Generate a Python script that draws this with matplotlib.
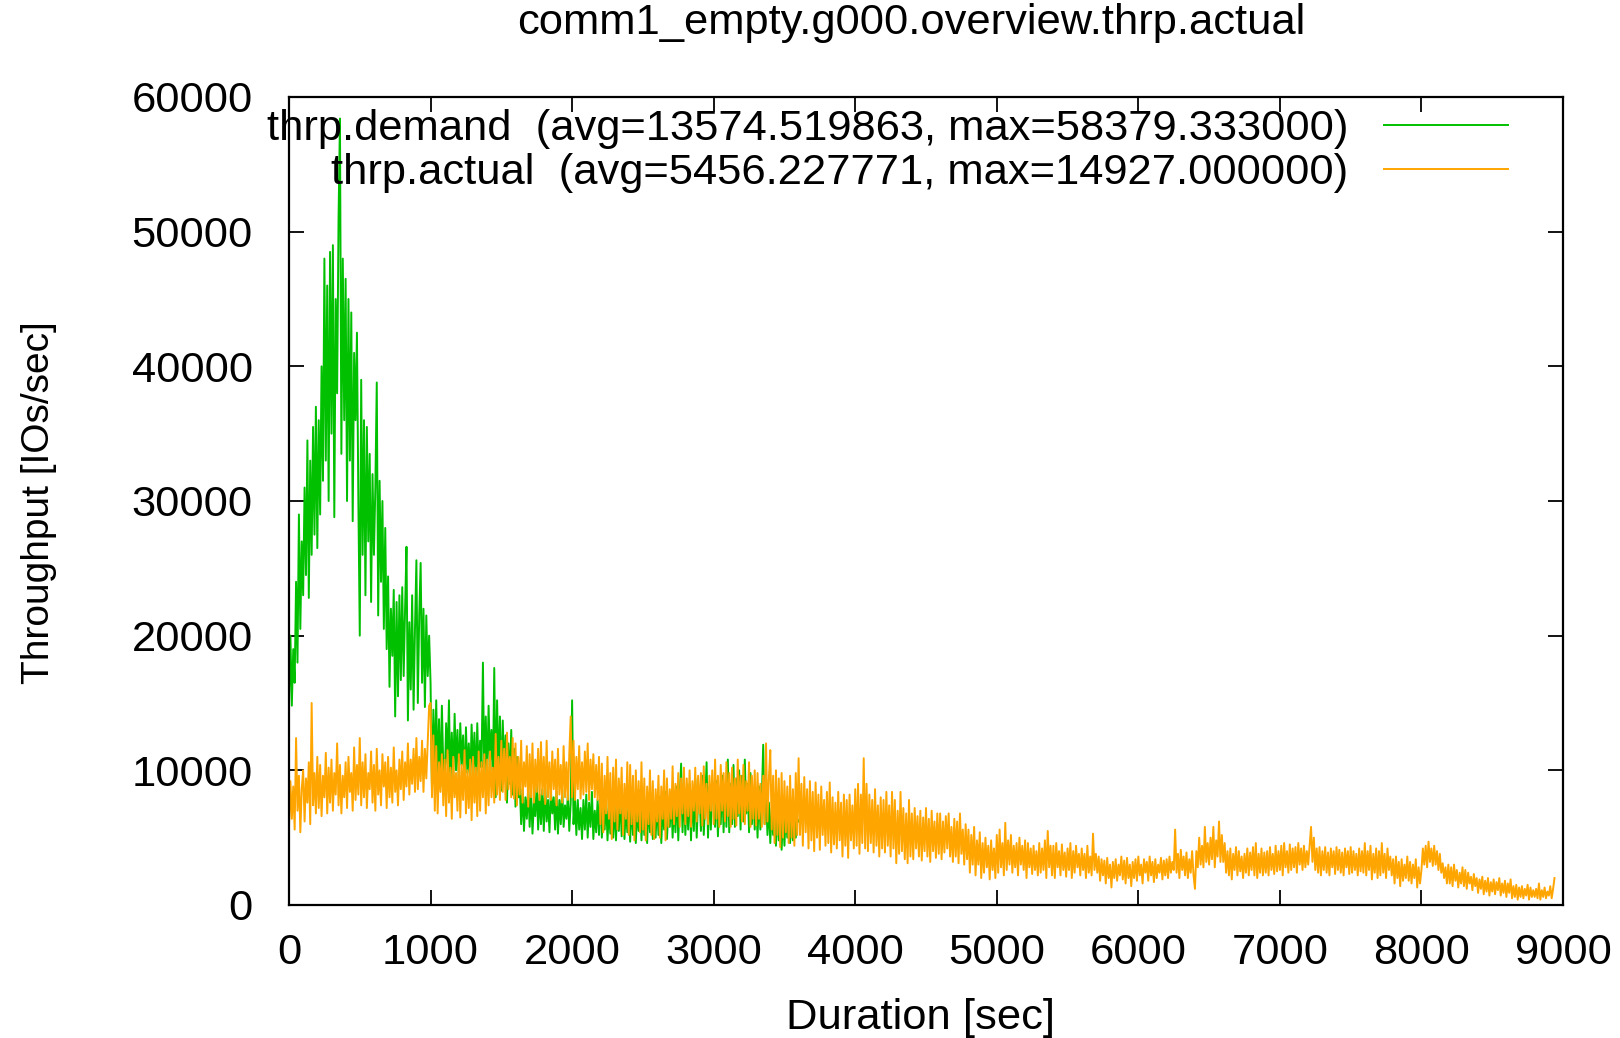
import numpy as np
import matplotlib
matplotlib.use("Agg")
import matplotlib.pyplot as plt
from matplotlib.lines import Line2D

plt.rcParams['font.family'] = ['Liberation Sans', 'DejaVu Sans']

# sample spacing of the series below (sec)
step_sec = 10

# thrp.demand, kIOs/sec, one value every 10 sec from t=0 to t=3600 (one row = 100 sec)
demand_k = [
    15.0, 20.0, 14.8, 19.0, 16.5, 24.0, 18.0, 29.0, 20.5, 27.0,
    23.0, 31.0, 24.5, 34.5, 22.8, 33.0, 26.0, 35.5, 27.5, 37.0,
    26.5, 36.0, 29.0, 40.0, 31.5, 48.0, 33.0, 46.0, 30.0, 48.5,
    35.0, 49.0, 28.8, 45.0, 38.0, 51.0, 58.4, 33.5, 48.0, 36.0,
    46.5, 30.0, 45.0, 33.0, 44.0, 28.5, 41.0, 36.0, 42.5, 30.0,
    20.0, 39.0, 26.0, 36.0, 23.0, 35.5, 27.0, 33.5, 22.5, 32.0,
    26.0, 31.0, 38.8, 21.5, 31.5, 24.0, 30.0, 20.5, 28.0, 19.0,
    24.4, 16.2, 22.0, 18.5, 23.4, 14.0, 22.5, 15.5, 23.0, 16.7,
    23.6, 17.0, 22.0, 26.6, 13.7, 21.0, 16.0, 23.0, 14.5, 20.5,
    25.6, 15.0, 21.5, 25.4, 16.5, 22.0, 14.7, 21.5, 17.0, 20.0,
    16.5, 8.5, 14.5, 10.0, 15.2, 9.5, 13.8, 8.8, 14.8, 10.2,
    9.0, 13.5, 10.5, 15.2, 8.6, 12.8, 9.4, 14.2, 10.0, 13.0,
    9.2, 13.5, 10.4, 12.6, 8.8, 13.2, 9.8, 12.0, 9.0, 13.4,
    10.0, 12.8, 8.8, 13.5, 9.6, 12.2, 10.2, 18.0, 9.0, 14.0,
    9.4, 14.8, 10.6, 13.0, 9.0, 17.6, 8.0, 15.2, 9.6, 14.0,
    8.5, 13.7, 9.8, 12.6, 7.6, 12.0, 9.0, 13.0, 8.2, 11.6,
    7.3, 11.0, 8.0, 9.0, 6.0, 8.6, 5.5, 8.0, 6.4, 8.8,
    5.8, 8.4, 5.3, 7.6, 6.6, 9.0, 5.6, 8.2, 6.0, 8.6,
    5.5, 8.8, 6.2, 7.8, 5.4, 8.5, 6.8, 8.0, 5.6, 8.4,
    5.3, 7.8, 6.0, 8.6, 5.8, 7.4, 6.4, 8.2, 5.5, 7.6,
    15.2, 6.0, 8.0, 5.2, 7.8, 5.6, 7.2, 4.9, 7.8, 5.6,
    8.2, 5.0, 7.6, 5.8, 8.4, 4.9, 7.0, 5.4, 7.8, 5.2,
    8.8, 5.0, 7.4, 5.6, 7.9, 4.8, 7.2, 5.3, 8.0, 5.0,
    7.4, 4.8, 7.8, 5.5, 8.2, 5.1, 7.0, 4.9, 7.6, 5.4,
    7.4, 4.7, 7.8, 5.2, 8.0, 4.6, 7.3, 5.5, 8.5, 4.8,
    7.6, 5.2, 7.0, 4.6, 7.8, 5.4, 8.2, 4.9, 7.5, 5.0,
    7.8, 5.2, 8.0, 4.6, 7.4, 5.6, 8.4, 4.9, 7.2, 5.8,
    8.2, 5.0, 7.6, 5.4, 8.8, 4.8, 7.9, 10.5, 5.4, 8.6,
    5.2, 8.0, 5.6, 9.0, 4.8, 8.5, 5.5, 9.4, 5.0, 7.8,
    8.5, 5.5, 9.6, 5.2, 7.6, 10.6, 5.0, 8.8, 5.6, 9.2,
    8.4, 5.8, 9.2, 5.1, 8.0, 6.0, 9.6, 5.4, 8.6, 5.8,
    10.8, 5.4, 9.0, 6.0, 10.4, 5.8, 9.4, 6.6, 10.0, 5.6,
    9.6, 6.2, 10.8, 6.8, 9.0, 5.4, 9.8, 6.0, 8.6, 5.6,
    8.2, 5.0, 8.8, 5.6, 7.8, 11.9, 6.0, 8.4, 5.2, 7.6,
    4.6, 7.2, 5.2, 7.8, 4.4, 7.6, 4.8, 7.0, 4.1, 6.8,
    4.4, 7.2, 5.0, 6.6, 4.6, 7.4, 4.8, 6.8, 5.0, 6.4,
    6.2,
]

# thrp.actual, kIOs/sec, one value every 10 sec from t=0 to t=8940 (one row = 100 sec)
actual_k = [
    5.8, 9.2, 6.4, 8.8, 5.6, 12.4, 7.0, 9.6, 5.4, 8.6,
    10.0, 6.2, 9.4, 7.6, 10.6, 6.0, 15.0, 7.4, 9.8, 6.8,
    11.0, 7.2, 10.4, 6.6, 9.6, 8.0, 11.3, 6.8, 10.2, 7.6,
    10.8, 7.0, 9.8, 8.2, 12.0, 7.4, 10.4, 6.8, 9.6, 8.0,
    10.6, 7.2, 11.0, 8.4, 9.8, 7.0, 11.7, 7.8, 10.4, 8.2,
    12.4, 7.4, 10.6, 8.0, 11.2, 7.2, 9.8, 8.6, 11.4, 7.6,
    10.4, 7.0, 11.6, 8.2, 10.0, 7.4, 11.2, 8.8, 10.6, 7.2,
    11.0, 8.0, 10.2, 7.6, 11.7, 8.4, 10.0, 7.4, 10.8, 8.6,
    11.4, 7.8, 10.6, 8.8, 12.0, 8.2, 10.8, 9.0, 11.6, 8.4,
    12.4, 8.6, 11.0, 9.2, 12.2, 8.4, 11.6, 9.4, 12.0, 14.8,
    15.0, 8.0, 12.6, 7.0, 11.8, 6.8, 10.6, 8.4, 11.2, 7.4,
    10.8, 6.6, 11.5, 7.6, 10.2, 6.4, 11.0, 8.0, 9.8, 7.0,
    11.2, 6.5, 10.4, 7.8, 11.5, 6.8, 10.0, 7.2, 10.8, 6.3,
    11.0, 7.6, 10.2, 6.6, 11.4, 7.0, 10.6, 8.0, 11.2, 6.8,
    10.8, 7.4, 11.4, 8.0, 10.2, 7.6, 12.7, 8.2, 11.0, 7.8,
    12.2, 8.4, 11.6, 7.8, 12.8, 8.6, 11.0, 8.0, 12.4, 7.9,
    12.0, 7.4, 11.0, 8.2, 12.2, 7.6, 10.6, 8.8, 11.8, 7.3,
    11.2, 8.0, 12.0, 7.6, 10.8, 8.4, 11.6, 7.8, 12.1, 8.2,
    11.0, 7.5, 12.2, 8.0, 10.6, 7.8, 11.4, 8.6, 10.8, 7.4,
    11.6, 8.2, 10.4, 7.6, 11.8, 8.0, 10.6, 7.8, 11.2, 14.0,
    8.0, 12.2, 7.8, 11.0, 8.6, 11.8, 7.9, 10.6, 8.2, 11.4,
    8.4, 12.0, 7.8, 10.8, 8.6, 11.2, 8.0, 10.4, 7.8, 11.0,
    6.0, 10.5, 5.4, 9.6, 6.8, 11.0, 6.4, 9.8, 4.9, 10.2,
    6.2, 10.8, 5.6, 9.4, 6.8, 10.2, 5.2, 9.0, 6.4, 10.6,
    5.2, 10.4, 6.0, 9.6, 4.8, 10.0, 6.2, 9.2, 5.4, 10.6,
    5.6, 9.4, 4.8, 8.8, 6.0, 10.0, 5.2, 9.2, 4.9, 8.6,
    6.2, 9.6, 5.0, 8.8, 6.4, 10.0, 4.8, 9.4, 5.8, 8.6,
    6.4, 10.3, 6.0, 9.0, 6.6, 9.8, 5.8, 9.4, 6.8, 10.2,
    6.0, 9.4, 6.6, 10.0, 5.8, 9.2, 7.0, 10.2, 6.2, 9.6,
    6.8, 9.8, 5.9, 10.3, 6.4, 9.0, 6.0, 9.6, 7.0, 10.0,
    6.0, 10.8, 6.4, 9.6, 5.8, 10.4, 7.0, 9.8, 6.2, 10.6,
    6.6, 9.8, 5.8, 10.2, 6.4, 9.4, 5.9, 10.8, 6.8, 9.6,
    6.2, 10.4, 6.0, 9.2, 7.0, 10.6, 5.8, 9.6, 6.4, 10.0,
    5.9, 9.8, 6.4, 9.0, 5.8, 9.6, 6.0, 12.0, 6.2, 9.4,
    11.5, 5.6, 9.6, 4.6, 10.0, 5.2, 9.4, 4.3, 9.8, 5.0,
    9.2, 5.4, 8.8, 4.6, 9.6, 5.0, 8.6, 4.4, 9.8, 5.2,
    10.9, 5.2, 9.0, 4.4, 9.5, 5.4, 8.6, 4.2, 9.2, 4.8,
    8.4, 4.0, 9.1, 5.0, 8.2, 4.1, 8.8, 5.2, 7.8, 4.4,
    8.4, 4.6, 9.1, 3.9, 8.0, 4.5, 7.6, 4.2, 8.4, 4.8,
    7.6, 3.6, 8.2, 4.4, 7.8, 3.5, 8.2, 4.8, 7.4, 4.2,
    8.6, 4.4, 9.0, 3.8, 8.2, 4.6, 10.9, 4.2, 9.0, 4.0,
    8.2, 4.6, 7.8, 3.9, 8.6, 4.4, 7.4, 3.6, 8.0, 4.2,
    7.8, 3.9, 8.4, 4.4, 7.4, 3.6, 8.4, 4.2, 7.8, 3.1,
    7.0, 3.8, 8.4, 4.0, 7.2, 3.4, 6.8, 3.1, 7.8, 3.6,
    6.8, 3.4, 7.2, 4.2, 6.6, 3.6, 7.0, 3.3, 6.5, 4.0,
    7.2, 3.6, 6.4, 3.2, 7.0, 4.0, 6.2, 3.5, 6.8, 3.8,
    6.8, 3.4, 6.2, 3.9, 6.6, 4.2, 6.8, 3.6, 5.8, 3.2,
    6.4, 3.6, 6.2, 3.1, 6.8, 3.8, 5.6, 3.0, 6.0, 3.4,
    5.6, 2.4, 5.2, 3.0, 5.8, 2.2, 4.8, 3.0, 5.4, 2.0,
    4.6, 2.4, 5.0, 2.8, 4.4, 1.9, 4.8, 2.6, 4.2, 2.0,
    5.2, 2.4, 5.6, 2.8, 4.6, 2.2, 6.1, 2.6, 4.8, 3.0,
    5.2, 2.4, 4.4, 2.8, 4.6, 2.2, 5.0, 3.0, 4.4, 2.6,
    4.8, 2.0, 4.6, 2.8, 4.2, 2.3, 4.4, 2.6, 4.0, 2.2,
    4.6, 2.4, 4.2, 2.6, 4.8, 2.0, 5.5, 2.8, 4.4, 2.2,
    4.4, 2.0, 4.6, 2.8, 4.0, 2.2, 4.5, 2.6, 3.9, 2.1,
    4.2, 2.6, 4.6, 2.0, 4.0, 2.4, 4.4, 2.8, 3.8, 2.2,
    4.2, 2.6, 3.8, 2.0, 4.4, 2.4, 3.6, 2.2, 5.3, 2.6,
    3.8, 2.4, 3.6, 1.8, 3.4, 2.2, 3.3, 1.6, 3.5, 2.0,
    3.0, 1.3, 3.2, 2.0, 3.4, 1.8, 3.0, 2.2, 3.6, 1.9,
    3.3, 1.6, 3.5, 2.0, 3.0, 1.4, 3.2, 2.0, 3.4, 1.8,
    3.6, 2.2, 3.0, 1.6, 3.4, 2.4, 3.2, 1.8, 3.6, 2.2,
    3.2, 1.7, 3.4, 2.0, 3.0, 2.4, 3.5, 1.9, 3.3, 2.2,
    3.4, 2.0, 3.6, 2.4, 3.2, 2.6, 5.6, 2.4, 3.8, 2.0,
    4.1, 2.6, 3.6, 2.2, 3.9, 2.0, 3.4, 2.4, 4.0, 2.2,
    1.2, 4.0, 2.8, 5.0, 3.0, 4.4, 2.8, 5.8, 3.2, 4.6,
    3.0, 5.0, 3.4, 5.8, 2.8, 4.8, 3.6, 6.2, 3.2, 5.2,
    3.2, 4.6, 2.4, 4.0, 2.2, 4.2, 1.9, 3.8, 2.6, 4.3,
    2.2, 4.0, 2.5, 3.6, 2.0, 3.8, 2.4, 4.2, 2.2, 3.9,
    2.6, 4.3, 2.2, 4.6, 2.0, 3.8, 2.4, 4.2, 2.2, 3.9,
    2.4, 4.0, 2.2, 4.3, 2.6, 3.8, 2.3, 4.4, 2.5, 4.0,
    2.6, 4.4, 2.2, 4.6, 2.8, 4.0, 2.4, 4.5, 2.6, 4.2,
    2.8, 4.3, 2.4, 4.6, 3.0, 4.2, 2.6, 4.4, 2.8, 4.0,
    3.0, 4.4, 5.8, 3.2, 5.0, 2.6, 4.2, 2.4, 4.3, 2.2,
    4.0, 2.6, 4.3, 2.4, 3.9, 2.2, 4.2, 2.8, 4.0, 2.3,
    4.3, 2.6, 4.1, 2.4, 3.9, 2.2, 4.2, 2.8, 4.0, 2.3,
    4.3, 2.4, 4.0, 2.6, 3.8, 2.2, 4.2, 2.5, 4.0, 2.4,
    4.6, 2.2, 4.0, 2.6, 4.4, 1.9, 3.8, 2.4, 4.2, 2.0,
    4.0, 2.2, 4.6, 2.4, 3.8, 2.0, 4.2, 2.6, 3.6, 2.2,
    3.4, 1.6, 3.6, 2.0, 3.2, 1.4, 3.4, 1.8, 3.0, 2.0,
    3.6, 1.8, 3.2, 1.6, 3.0, 2.0, 3.4, 1.3, 2.8, 1.6,
    2.6, 4.2, 3.0, 4.4, 2.8, 4.7, 3.2, 4.2, 2.9, 4.4,
    3.0, 4.0, 2.6, 3.8, 2.4, 3.1, 2.0, 2.8, 1.6, 3.0,
    1.6, 2.8, 1.4, 3.0, 1.8, 2.6, 1.3, 2.4, 1.6, 2.8,
    1.4, 2.6, 1.2, 2.4, 1.6, 2.1, 1.1, 2.3, 1.4, 2.0,
    0.9, 1.9, 1.2, 2.1, 0.8, 1.8, 1.0, 2.0, 0.7, 1.7,
    1.0, 1.9, 0.8, 1.7, 1.1, 2.0, 0.7, 1.6, 0.9, 1.8,
    0.6, 1.6, 0.9, 1.9, 0.5, 1.4, 0.6, 1.5, 0.4, 1.3,
    0.6, 1.4, 0.5, 1.2, 0.7, 1.5, 0.4, 1.3, 0.6, 1.1,
    0.6, 1.2, 0.5, 1.6, 0.4, 1.1, 0.6, 1.3, 0.5, 1.0,
    0.7, 1.4, 0.5, 1.2, 2.0,
]

demand_label = "thrp.demand  (avg=13574.519863, max=58379.333000)"
actual_label = "thrp.actual  (avg=5456.227771, max=14927.000000)"
title = "comm1_empty.g000.overview.thrp.actual"

demand = np.array(demand_k) * 1000
actual = np.array(actual_k) * 1000
t_demand = np.arange(len(demand)) * step_sec
t_actual = np.arange(len(actual)) * step_sec

green = '#00c000'
orange = '#ffa500'
fs = 31.3      # horizontal text
fs_v = 28      # rotated y label

fig = plt.figure(figsize=(16.2, 10.38), dpi=100)
ax = fig.add_axes([289/1620, 1-905/1038, 1274/1620, 808/1038])

ax.plot(t_demand, demand, color=green, lw=1.4)
ax.plot(t_actual, actual, color=orange, lw=1.4)

ax.set_xlim(0, 9000)
ax.set_ylim(0, 60000)
ax.set_xticks(np.arange(0, 9001, 1000))
ax.set_yticks(np.arange(0, 60001, 10000))
ax.tick_params(direction='in', length=11, width=1.3, top=True, right=True,
               labelsize=fs, colors='black')
ax.tick_params(axis='x', pad=20)
ax.tick_params(axis='y', pad=26)
for s in ax.spines.values():
    s.set_linewidth(1.6)

handles = [Line2D([], [], color=green, lw=1.4),
           Line2D([], [], color=orange, lw=1.4)]
ax.legend(handles, [demand_label, actual_label], loc='upper right',
          bbox_to_anchor=(0.957, 0.985), borderaxespad=0, borderpad=0,
          markerfirst=False, frameon=False, fontsize=fs,
          handlelength=2.85, handletextpad=0.83, labelspacing=0.1)

fig.text(911/1620, 1-23/1038, title, ha='center', va='center', fontsize=fs)
fig.text(920/1620, 1-1018/1038, "Duration [sec]", ha='center', va='center', fontsize=fs)
fig.text(39/1620, 1-503/1038, "Throughput [IOs/sec]", ha='center', va='center',
         rotation=90, fontsize=fs_v)

fig.savefig('out.png', dpi=100)
